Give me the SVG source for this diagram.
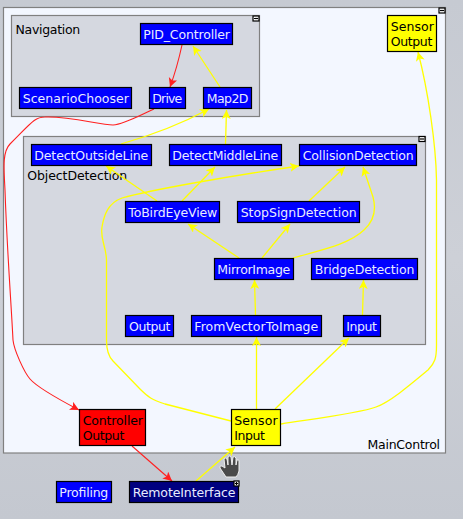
<svg xmlns="http://www.w3.org/2000/svg" width="463" height="519" viewBox="0 0 463 519">
<style>
.bg{fill:#f3f7ff;stroke:#808080;stroke-width:1.2}
.sub{fill:#d5d8e0;stroke:#808080;stroke-width:1.2}
.n{stroke:#000;stroke-width:1.2}
.b{fill:#0000ff}.d{fill:#000080}.y{fill:#ffff00}.r{fill:#ff0000}
text{font-family:"DejaVu Sans",sans-serif;font-size:12.5px}
.w{fill:#e8ecff}.k{fill:#000}
.ey{fill:none;stroke:#ffff00;stroke-width:1.3;marker-end:url(#ay)}
.er{fill:none;stroke:#ff2020;stroke-width:1.1;marker-end:url(#ar)}
.ic{fill:#fff;stroke:#000;stroke-width:1.2}
.im{stroke:#000;stroke-width:1.2;fill:none}
</style>
<defs>
<linearGradient id="g" x1="0" y1="0" x2="0" y2="1">
<stop offset="0" stop-color="#c6cad2"/><stop offset="0.5" stop-color="#cdd0d7"/><stop offset="1" stop-color="#c4c8d0"/>
</linearGradient>
<marker id="ay" markerUnits="userSpaceOnUse" markerWidth="11" markerHeight="10" refX="9" refY="4.500" orient="auto"><path d="M0 0L9 4.500L0 9L2.200 4.500Z" fill="#ffff00"/></marker>
<marker id="ar" markerUnits="userSpaceOnUse" markerWidth="11" markerHeight="10" refX="9" refY="4.500" orient="auto"><path d="M0 0L9 4.500L0 9L2.200 4.500Z" fill="#ff2020"/></marker>
</defs>
<rect width="463" height="519" fill="url(#g)"/>
<g id="MainControl"><rect class="bg" x="3.500" y="7.500" width="442" height="445.500"/>
<text class="k" x="367.500" y="449" textLength="72.600">MainControl</text>
<rect class="ic" x="439" y="8" width="6" height="5"/><path class="im" d="M440 10.500h4"/></g>
<g id="Navigation"><rect class="sub" x="11.500" y="15.500" width="248" height="101"/>
<text class="k" x="15.500" y="34" textLength="64.700">Navigation</text>
<rect class="ic" x="253" y="16" width="6" height="5"/><path class="im" d="M254 18.500h4"/></g>
<g id="ObjectDetection"><rect class="sub" x="23.500" y="136.500" width="402" height="208"/>
<text class="k" x="27.300" y="180" textLength="100">ObjectDetection</text>
<rect class="ic" x="419" y="136.500" width="6" height="5"/><path class="im" d="M420 139h4"/></g>
<g id="connectors">
<path class="er" d="M182 45Q177 68 170 87"/>
<path class="ey" d="M220 87L193 46"/>
<path class="er" d="M154 109C140 115 125 124 113 125C100 125 70 116 45 117C35 117 32 122 10 144C2 152 4 170 5 190C7 250 11 300 13 340C14 350 24 372 30 379C36 386 60 400 79 410"/>
<path class="ey" d="M121 144Q170 130 209 109"/>
<path class="ey" d="M225.500 144L226.500 110"/>
<path class="ey" d="M157 201L106 166"/>
<path class="ey" d="M182 201L215 167"/>
<path class="ey" d="M239 258L188 224"/>
<path class="ey" d="M262 258L290 224"/>
<path class="ey" d="M293 258C320 250 348 245 364 230C375 220 376 208 373 197L363 167"/>
<path class="ey" d="M309 201L345 167"/>
<path class="ey" d="M255.500 315L254.500 280"/>
<path class="ey" d="M362.500 315L363.500 280"/>
<path class="ey" d="M256.500 409V337"/>
<path class="ey" d="M275 409L349 338"/>
<path class="ey" d="M231 421L165 404C152 400 148 397 140 389L113 361C108 356 106.500 350 106.500 340V260C106 245 100 240 102 227C104 215 108 203 122 198C150 190 230 176 299 166"/>
<path class="ey" d="M281 424C320 418 360 413 376 407C390 402 410 385 428 370C435 363 436.500 358 436.500 345V180C436 145 428 90 418 52"/>
<path class="ey" d="M196 481L235 447"/>
<path class="er" d="M132 446L172 481"/>
</g>
<g id="PID_Controller"><rect class="n b" x="140.500" y="23.500" width="92" height="21"/><text class="w" x="143.300" y="39" textLength="86.700">PID_Controller</text></g>
<g id="ScenarioChooser"><rect class="n b" x="19.500" y="87.500" width="112" height="21"/><text class="w" x="22.700" y="103" textLength="106.300">ScenarioChooser</text></g>
<g id="Drive"><rect class="n b" x="149.500" y="87.500" width="36" height="21"/><text class="w" x="152.300" y="103" textLength="30">Drive</text></g>
<g id="Map2D"><rect class="n b" x="203.500" y="87.500" width="48" height="21"/><text class="w" x="206.700" y="103" textLength="41.700">Map2D</text></g>
<g id="DetectOutsideLine"><rect class="n b" x="31.500" y="144.500" width="120" height="21"/><text class="w" x="34.300" y="160" textLength="114">DetectOutsideLine</text></g>
<g id="DetectMiddleLine"><rect class="n b" x="169.500" y="144.500" width="112" height="21"/><text class="w" x="172.300" y="160" textLength="106">DetectMiddleLine</text></g>
<g id="CollisionDetection"><rect class="n b" x="299.500" y="144.500" width="117" height="21"/><text class="w" x="302.700" y="160" textLength="111">CollisionDetection</text></g>
<g id="ToBirdEyeView"><rect class="n b" x="125.500" y="201.500" width="94" height="21"/><text class="w" x="128.300" y="217" textLength="89">ToBirdEyeView</text></g>
<g id="StopSignDetection"><rect class="n b" x="237.500" y="201.500" width="122" height="21"/><text class="w" x="240.700" y="217" textLength="116">StopSignDetection</text></g>
<g id="MirrorImage"><rect class="n b" x="214.500" y="258.500" width="79" height="21"/><text class="w" x="217.300" y="274" textLength="73">MirrorImage</text></g>
<g id="BridgeDetection"><rect class="n b" x="311.500" y="258.500" width="106" height="21"/><text class="w" x="314.700" y="274" textLength="99.700">BridgeDetection</text></g>
<g id="Output"><rect class="n b" x="125.500" y="315.500" width="48" height="21"/><text class="w" x="129" y="331" textLength="41.300">Output</text></g>
<g id="FromVectorToImage"><rect class="n b" x="191.500" y="315.500" width="130" height="21"/><text class="w" x="194.300" y="331" textLength="124">FromVectorToImage</text></g>
<g id="Input"><rect class="n b" x="343.500" y="315.500" width="37" height="21"/><text class="w" x="346.300" y="331" textLength="30.700">Input</text></g>
<g id="SensorOutput"><rect class="n y" x="387.500" y="15.500" width="49" height="36"/><text class="k" x="390.700" y="31" textLength="43.300">Sensor</text><text class="k" x="390.700" y="46" textLength="41.600">Output</text></g>
<g id="ControllerOutput"><rect class="n r" x="79.500" y="409.500" width="66" height="36"/><text class="k" x="82.700" y="425" textLength="60.300">Controller</text><text class="k" x="82.700" y="440" textLength="41.600">Output</text></g>
<g id="SensorInput"><rect class="n y" x="231.500" y="409.500" width="49" height="36"/><text class="k" x="234.300" y="425" textLength="43.300">Sensor</text><text class="k" x="234.300" y="440" textLength="30.700">Input</text></g>
<g id="Profiling"><rect class="n b" x="56.500" y="481.500" width="55" height="21"/><text class="w" x="59.300" y="497" textLength="49">Profiling</text></g>
<g id="RemoteInterface"><rect class="n d" x="129.500" y="481.500" width="109" height="21"/><text class="w" x="132.700" y="497" textLength="102.700">RemoteInterface</text>
<rect class="ic" x="234" y="481" width="5" height="5"/><path class="im" d="M235 483.500h3M236.500 482v3"/></g>
<path fill="#4a4a4a" stroke="#f0f0f0" stroke-width="1" d="M226 477L220 468Q219 465 222 466L225 468L224 459Q225 457 227 459L228 465L228 457Q230 455 231 457L232 465L233 457Q235 456 236 458L236 465L237 460Q239 459 239 461L239 471Q238 475 236 477Z"/>
</svg>
